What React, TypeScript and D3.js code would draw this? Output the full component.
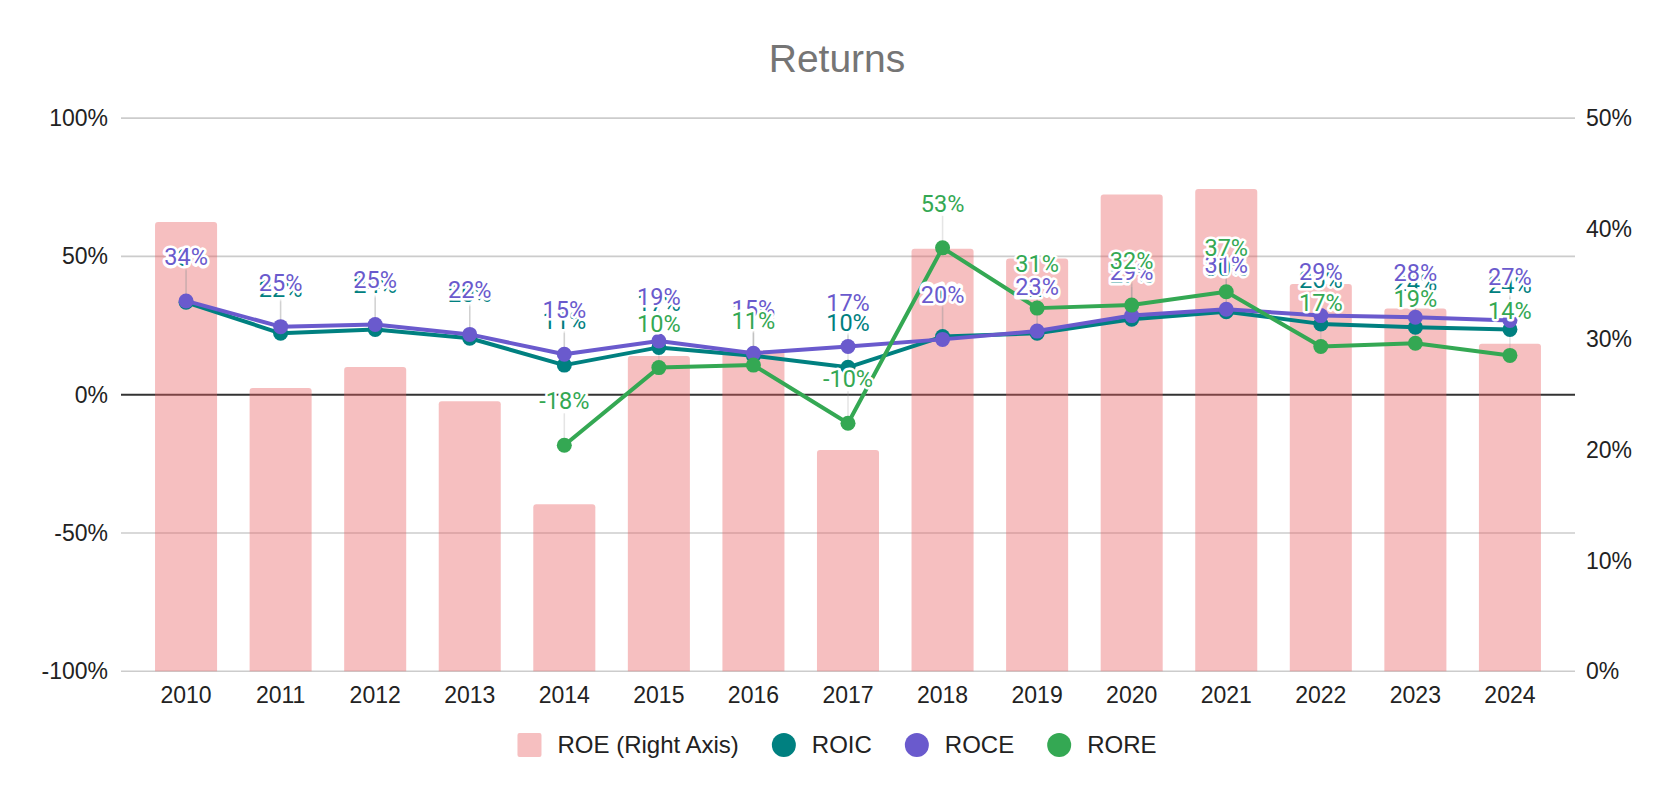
import React, { useEffect, useRef } from 'react';
import * as d3 from 'd3';

const years = ['2010', '2011', '2012', '2013', '2014', '2015', '2016', '2017', '2018', '2019', '2020', '2021', '2022', '2023', '2024'];
// ROE is on the right axis, the rest on the left one (values in %)
const roe = [40.6, 25.6, 27.5, 24.4, 15.1, 28.5, 29.0, 20.0, 38.2, 37.3, 43.1, 43.6, 35.0, 32.8, 29.6];
const roic = [33.4, 22.2, 23.6, 20.4, 10.7, 17.1, 14.1, 9.9, 21.0, 22.2, 27.3, 30.0, 25.6, 24.4, 23.6];
const roce = [33.9, 24.6, 25.4, 21.8, 14.6, 19.4, 15.0, 17.4, 20.0, 23.0, 28.6, 30.9, 28.6, 28.0, 26.8];
const rore: (number | null)[] = [null, null, null, null, -18.3, 9.8, 10.7, -10.3, 53.1, 31.3, 32.4, 37.2, 17.4, 18.6, 14.2];

const leftTicks = [-100, -50, 0, 50, 100];
const rightTicks = [0, 10, 20, 30, 40, 50];

const width = 1674;
const height = 798;

const axisFont = '"Liberation Sans", Arial, sans-serif';
const labelFont = 'Roboto, "Liberation Sans", sans-serif';

const lineSeries = [
  { name: 'ROIC', values: roic as (number | null)[], color: '#008080' },
  { name: 'ROCE', values: roce as (number | null)[], color: '#6a5acd' },
  { name: 'RORE', values: rore, color: '#34a853' },
];

const App: React.FC = () => {
  const svgRef = useRef<SVGSVGElement>(null);

  useEffect(() => {
    if (!svgRef.current) return;
    const svg = d3.select(svgRef.current);
    svg.selectAll('*').remove();

    const left = 121;
    const right = 1575;
    const top = 118.1;
    const bottom = 671.3;

    const x = d3.scaleBand<string>()
      .domain(years)
      .range([left, right])
      .paddingInner(0.344)
      .paddingOuter(0.36);
    const cx = (d: string) => (x(d) as number) + x.bandwidth() / 2;

    const yLeft = d3.scaleLinear().domain([-100, 100]).range([bottom, top]);
    const yRight = d3.scaleLinear().domain([0, 50]).range([bottom, top]);

    // title
    svg.append('text')
      .attr('x', width / 2)
      .attr('y', 71.5)
      .attr('text-anchor', 'middle')
      .style('font-family', axisFont)
      .style('font-size', '39px')
      .style('fill', '#757575')
      .text('Returns');

    // gridlines
    svg.append('g')
      .selectAll('line')
      .data(leftTicks.filter(t => t !== 0))
      .join('line')
      .attr('x1', left)
      .attr('x2', right)
      .attr('y1', d => yLeft(d))
      .attr('y2', d => yLeft(d))
      .attr('stroke', '#cccccc')
      .attr('stroke-width', 1.6);

    svg.append('line')
      .attr('x1', left)
      .attr('x2', right)
      .attr('y1', yLeft(0))
      .attr('y2', yLeft(0))
      .attr('stroke', '#333333')
      .attr('stroke-width', 2);

    // bars with rounded tops
    const r = 3;
    svg.append('g')
      .selectAll('path')
      .data(years.map((yr, i) => ({ yr, v: roe[i] })))
      .join('path')
      .attr('d', d => {
        const x0 = x(d.yr) as number;
        const w = x.bandwidth();
        const y0 = yRight(d.v);
        const y1 = yRight(0);
        return `M${x0},${y1}V${y0 + r}Q${x0},${y0} ${x0 + r},${y0}H${x0 + w - r}Q${x0 + w},${y0} ${x0 + w},${y0 + r}V${y1}Z`;
      })
      .attr('fill', '#e85f61')
      .attr('fill-opacity', 0.4);

    // left axis labels
    svg.append('g')
      .selectAll('text')
      .data(leftTicks)
      .join('text')
      .attr('x', 108)
      .attr('y', d => yLeft(d))
      .attr('dy', '0.35em')
      .attr('text-anchor', 'end')
      .style('font-family', axisFont)
      .style('font-size', '23px')
      .style('fill', '#222')
      .text(d => `${d}%`);

    // right axis labels
    svg.append('g')
      .selectAll('text')
      .data(rightTicks)
      .join('text')
      .attr('x', 1586)
      .attr('y', d => yRight(d))
      .attr('dy', '0.35em')
      .attr('text-anchor', 'start')
      .style('font-family', axisFont)
      .style('font-size', '23px')
      .style('fill', '#222')
      .text(d => `${d}%`);

    // x labels
    svg.append('g')
      .selectAll('text')
      .data(years)
      .join('text')
      .attr('x', d => cx(d))
      .attr('y', 703)
      .attr('text-anchor', 'middle')
      .style('font-family', axisFont)
      .style('font-size', '23px')
      .style('fill', '#222')
      .text(d => d);

    const labelOffset = 36;

    // stems
    lineSeries.forEach(s => {
      svg.append('g')
        .selectAll('line')
        .data(years.map((yr, i) => ({ yr, v: s.values[i] })).filter(d => d.v !== null))
        .join('line')
        .attr('x1', d => cx(d.yr))
        .attr('x2', d => cx(d.yr))
        .attr('y1', d => yLeft(d.v as number))
        .attr('y2', d => yLeft(d.v as number) - labelOffset + 4)
        .attr('stroke', '#999')
        .attr('stroke-opacity', 0.25)
        .attr('stroke-width', 1.5);
    });

    // lines and points
    lineSeries.forEach(s => {
      const pts = years.map((yr, i) => ({ yr, v: s.values[i] }));
      const line = d3.line<{ yr: string; v: number | null }>()
        .defined(d => d.v !== null)
        .x(d => cx(d.yr))
        .y(d => yLeft(d.v as number));
      svg.append('path')
        .datum(pts)
        .attr('d', line)
        .attr('fill', 'none')
        .attr('stroke', s.color)
        .attr('stroke-width', 4)
        .attr('stroke-linejoin', 'round');
      svg.append('g')
        .selectAll('circle')
        .data(pts.filter(d => d.v !== null))
        .join('circle')
        .attr('cx', d => cx(d.yr))
        .attr('cy', d => yLeft(d.v as number))
        .attr('r', 7.5)
        .attr('fill', s.color);
    });

    // data labels
    lineSeries.forEach(s => {
      svg.append('g')
        .selectAll('text')
        .data(years.map((yr, i) => ({ yr, v: s.values[i] })).filter(d => d.v !== null))
        .join('text')
        .attr('x', d => cx(d.yr))
        .attr('y', d => yLeft(d.v as number) - labelOffset)
        .attr('text-anchor', 'middle')
        .style('font-family', labelFont)
        .style('font-size', '23.5px')
        .style('fill', s.color)
        .style('stroke', '#fff')
        .style('stroke-width', 5)
        .style('stroke-linejoin', 'round')
        .style('paint-order', 'stroke')
        .text(d => `${Math.round(d.v as number)}%`);
    });

    // legend
    const legendItems = [
      { name: 'ROE (Right Axis)', color: '#e85f61', rect: true },
      ...lineSeries.map(s => ({ name: s.name, color: s.color, rect: false })),
    ];
    const legend = svg.append('g');
    const legendY = 745;
    let pos = 0;
    legendItems.forEach((item, i) => {
      if (i > 0) pos += 33;
      if (item.rect) {
        legend.append('rect')
          .attr('x', pos)
          .attr('y', legendY - 12)
          .attr('width', 24)
          .attr('height', 24)
          .attr('rx', 2)
          .attr('fill', item.color)
          .attr('fill-opacity', 0.4);
      } else {
        legend.append('circle')
          .attr('cx', pos + 12)
          .attr('cy', legendY)
          .attr('r', 12)
          .attr('fill', item.color);
      }
      pos += 24 + 16;
      const t = legend.append('text')
        .attr('x', pos)
        .attr('y', legendY)
        .attr('dy', '0.35em')
        .style('font-family', axisFont)
        .style('font-size', '24px')
        .style('fill', '#222')
        .text(item.name);
      pos += (t.node() as SVGTextElement).getComputedTextLength();
    });
    legend.attr('transform', `translate(${width / 2 - pos / 2},0)`);
  }, []);

  return (
    <svg
      ref={svgRef}
      width={width}
      height={height}
      style={{ position: 'absolute', left: 0, top: 0, background: '#fff' }}
    />
  );
};

export default App;
